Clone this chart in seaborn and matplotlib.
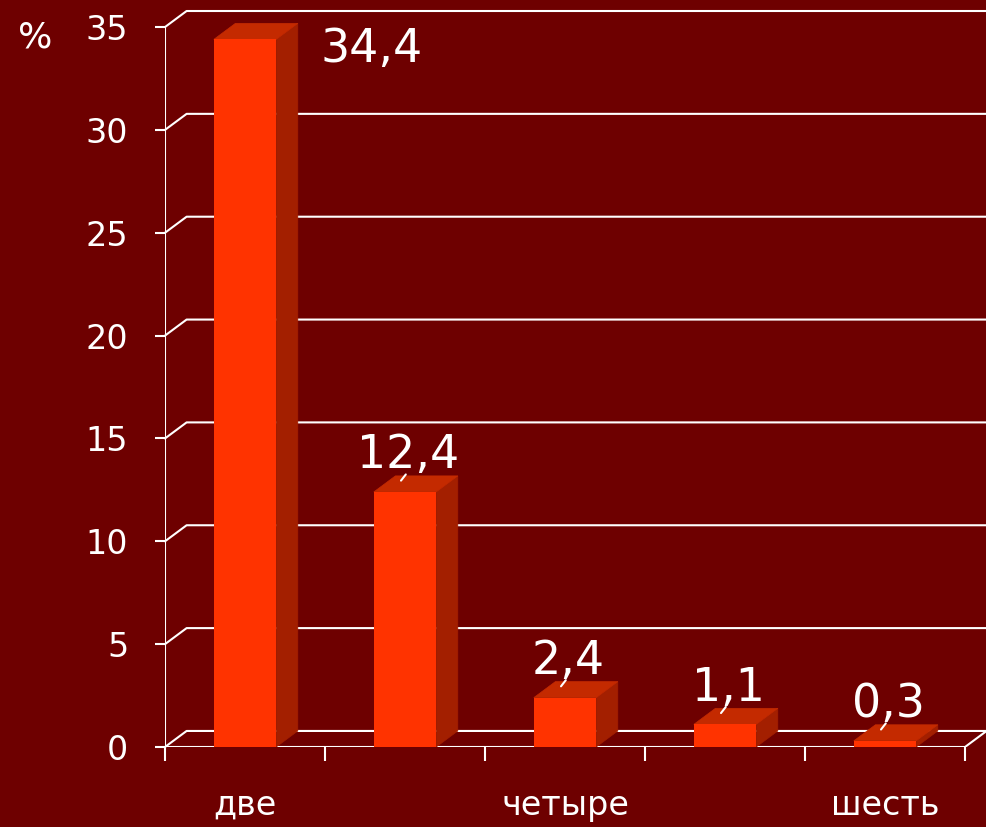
import numpy as np
import pandas as pd
import seaborn as sns
import matplotlib.pyplot as plt

# data
categories = ["две", "три", "четыре", "пять", "шесть"]
values = [34.4, 12.4, 2.4, 1.1, 0.3]
value_labels = ["34,4", "12,4", "2,4", "1,1", "0,3"]
tick_labels = ["две", "", "четыре", "", "шесть"]
y_ticks = [0, 5, 10, 15, 20, 25, 30, 35]

bg = "#6E0000"
front = "#FF3300"
side = "#A31F00"
top = "#C42A00"
dx, dy = 0.135, 0.78   # 3d depth offset in data units

sns.set_style("dark", {"axes.facecolor": bg, "figure.facecolor": bg})
plt.rcParams["font.family"] = ["DejaVu Sans"]

fig = plt.figure(figsize=(9.86, 8.27), dpi=100)
ax = fig.add_axes([165 / 986, 80 / 827, 821 / 986, 747 / 827])

df = pd.DataFrame({"n": categories, "pct": values})
sns.barplot(data=df, x="n", y="pct", order=categories, color=front,
            saturation=1, width=0.39, linewidth=0, ax=ax)
for p in ax.patches:
    p.set_zorder(4)
    p.set_edgecolor(front)

ax.set_xlim(-0.5, -0.5 + 821 / 160)
ax.set_ylim(0, 747 / 20.57)

# back-wall gridlines with perspective step
xr = 4.5 + dx
for t in y_ticks:
    ax.plot([-0.5, -0.5 + dx, xr + 0.5], [t, t + dy, t + dy], color="white", lw=1.5, zorder=0.5, clip_on=False)
# axes lines
ax.plot([-0.5, -0.5], [0, 35], color="white", lw=1.5, zorder=2)
ax.plot([-0.5, 4.5, 4.5 + dx], [0, 0, dy], color="white", lw=1.5, zorder=2)

# 3d top and side of bars
for p in ax.patches[:len(values)]:
    x0 = p.get_x()
    x1 = x0 + p.get_width()
    h = p.get_height()
    ax.fill([x1, x1 + dx, x1 + dx, x1], [0, dy, h + dy, h], color=side, lw=0.5, zorder=3)
    ax.fill([x0, x0 + dx, x1 + dx, x1], [h, h + dy, h + dy, h], color=top, lw=0.5, zorder=3)

# value labels
for i, (v, lab) in enumerate(zip(values, value_labels)):
    if i == 0:
        ax.text(0.79, 33.9, lab, color="white", fontsize=33, ha="center", va="center", zorder=5)
    else:
        ax.text(i + 0.02, v + 1.75, lab, color="white", fontsize=33, ha="center", va="center", zorder=5)
        ax.plot([i - 0.025, i + 0.005], [v + 0.55, v + 0.85], color="white", lw=1.5, zorder=5)

for s in ax.spines.values():
    s.set_visible(False)

ax.set_yticks(y_ticks)
ax.set_yticklabels([str(t) for t in y_ticks])
ax.tick_params(axis="y", colors="white", labelsize=24, length=7.5, width=1.5, pad=19, left=True)
ax.set_xticks(np.arange(-0.5, 5, 1))
ax.set_xticklabels([])
ax.tick_params(axis="x", which="major", colors="white", length=10, width=1.5, bottom=True)
ax.set_xticks(np.arange(len(categories)), minor=True)
ax.set_xticklabels(tick_labels, minor=True)
ax.tick_params(axis="x", which="minor", colors="white", labelsize=24, length=0, pad=30)
ax.set_xlabel("")
ax.set_ylabel("")
ax.grid(False)

fig.text(35 / 986, 1 - 37 / 827, "%", color="white", fontsize=26, ha="center", va="center")

fig.savefig("out.png", dpi=100, facecolor=bg)
